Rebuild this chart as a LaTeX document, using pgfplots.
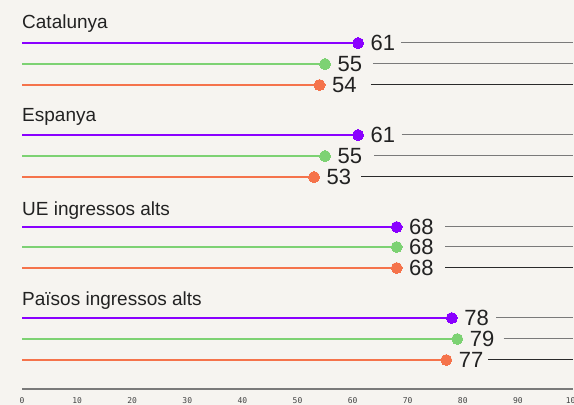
\documentclass[border=0pt]{standalone}
\usepackage{pgfplots}
\pgfplotsset{compat=1.18}
\usepackage{pgfplotstable}
\usepackage{fontspec}
\setmainfont{Liberation Sans}
\newfontfamily\tickfont{DejaVu Sans Mono}
\definecolor{bg}{HTML}{F6F4F0}
\definecolor{cpurple}{HTML}{8A00FF}
\definecolor{cgreen}{HTML}{7DD273}
\definecolor{corange}{HTML}{F5734B}
\definecolor{lgray}{HTML}{7A7A7A}
\definecolor{ldark}{HTML}{2A2A2A}
\definecolor{txt}{HTML}{222222}

% y = row position, v = value
\pgfplotstableread{
y   v
362 61
270 61
178 68
87  78
}\purpledata
\pgfplotstableread{
y   v
341 55
249 55
158 68
66  79
}\greendata
\pgfplotstableread{
y   v
320 54
228 53
137 68
45  77
}\orangedata

\begin{document}
\begin{tikzpicture}
\fill[bg] (0,0) rectangle (574pt,405pt);
\begin{axis}[
  at={(22pt,16pt)}, anchor=south west,
  scale only axis, width=551pt, height=389pt,
  xmin=0, xmax=100, ymin=16, ymax=405,
  axis x line*=bottom, axis y line=none,
  axis line style={draw=lgray, line width=1.4pt, -},
  xtick={0,10,...,100},
  major tick length=0pt,
  /pgf/number format/assume math mode=true,
  xticklabel style={font=\tickfont\fontsize{8}{8}\selectfont, text=txt!85, anchor=center, yshift=-11.5pt},
  clip=false,
  lolli/.style={xcomb, draw=#1, line width=1.8pt, mark=*, mark size=5.5pt,
    mark options={fill=#1, draw=#1, line width=0pt},
    nodes near coords={\pgfmathprintnumber[assume math mode=true]{\pgfplotspointmeta}},
    point meta=x,
    nodes near coords style={anchor=west, inner sep=0pt, xshift=12.5pt,
      font=\fontsize{22}{22}\selectfont, text=txt}},
]
% thin guide lines from the label to the right edge
\addplot[lgray, line width=1pt, no marks] coordinates {(68.8,362) (100,362)};
\addplot[lgray, line width=1pt, no marks] coordinates {(63.7,341) (100,341)};
\addplot[ldark, line width=1pt, no marks] coordinates {(63.3,320) (100,320)};
\addplot[lgray, line width=1pt, no marks] coordinates {(68.9,270) (100,270)};
\addplot[lgray, line width=1pt, no marks] coordinates {(63.9,249) (100,249)};
\addplot[ldark, line width=1pt, no marks] coordinates {(61.6,228) (100,228)};
\addplot[lgray, line width=1pt, no marks] coordinates {(76.8,178) (100,178)};
\addplot[lgray, line width=1pt, no marks] coordinates {(76.8,158) (100,158)};
\addplot[ldark, line width=1pt, no marks] coordinates {(76.8,137) (100,137)};
\addplot[lgray, line width=1pt, no marks] coordinates {(86.1,87) (100,87)};
\addplot[lgray, line width=1pt, no marks] coordinates {(87.4,66) (100,66)};
\addplot[ldark, line width=1pt, no marks] coordinates {(84.6,45) (100,45)};
% lollipops
\addplot[lolli=cpurple] table[x=v, y=y] {\purpledata};
\addplot[lolli=cgreen] table[x=v, y=y] {\greendata};
\addplot[lolli=corange] table[x=v, y=y] {\orangedata};
% group titles
\begin{scope}[every node/.style={anchor=base west, inner sep=0pt, font=\fontsize{19}{19}\selectfont, text=txt}]
\node at (axis cs:0,376) {Catalunya};
\node at (axis cs:0,283) {Espanya};
\node at (axis cs:0,189) {UE ingressos alts};
\node at (axis cs:0,99) {Països ingressos alts};
\end{scope}
\end{axis}
\pgfresetboundingbox
\path[use as bounding box] (0,0) rectangle (574pt,405pt);
\end{tikzpicture}
\end{document}
